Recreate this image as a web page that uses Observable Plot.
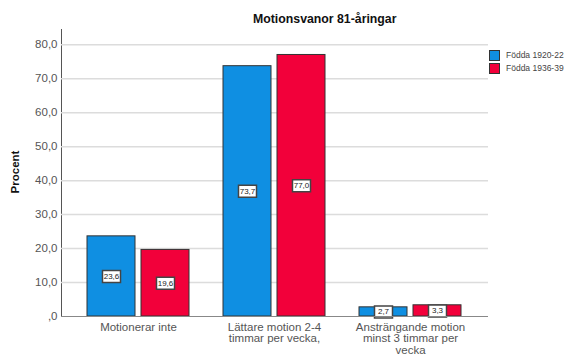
<!DOCTYPE html>
<html><head><meta charset="utf-8">
<script src="https://cdn.jsdelivr.net/npm/d3@7"></script>
<script src="https://cdn.jsdelivr.net/npm/@observablehq/plot@0.6"></script>
<style>
body{margin:0;background:#fff;font-family:Arial,"Liberation Sans",sans-serif;}
#wrap{position:relative;width:571px;height:356px;overflow:hidden;}
#title{position:absolute;left:253px;top:12px;font-size:12.3px;font-weight:bold;color:#111;white-space:nowrap;}
#legend{position:absolute;left:489px;top:49px;font-size:8.5px;color:#444;line-height:13px;}
#legend div{display:flex;align-items:center;}
#legend span.sw{display:inline-block;width:9px;height:9px;border:1px solid #333;margin-right:6px;}
#chart{position:absolute;left:0;top:0;}
</style></head>
<body>
<div id="wrap">
<div id="chart"></div>
<div id="title">Motionsvanor 81-åringar</div>
<div id="legend"></div>
</div>
<script>
const categories = ["Motionerar inte", "Lättare motion 2-4\ntimmar per vecka,", "Ansträngande motion\nminst 3 timmar per\nvecka"];
const series = ["Födda 1920-22", "Födda 1936-39"];
const values1920 = [23.6, 73.7, 2.7];
const values1936 = [19.6, 77.0, 3.3];
const yTicks = [0, 10, 20, 30, 40, 50, 60, 70, 80];
const colors = ["#0f8fe2", "#f2003a"];

const fmt = d => d === 0 ? ",0" : d.toFixed(1).replace(".", ",");
const data = [];
categories.forEach((c, i) => {
  data.push({cat: c, series: series[0], v: values1920[i]});
  data.push({cat: c, series: series[1], v: values1936[i]});
});
const d1 = data.filter(d => d.series === series[0]);
const d2 = data.filter(d => d.series === series[1]);

const boxSymbol = {draw(ctx, size) { ctx.rect(-9, -6, 18, 12); }};

// band: width 121 of step 137; bar 49, gap 5, outer inset 9
const bw = 121, outer = 9, barW = 49;
const off = bw / 2 - outer - barW / 2;
const plot = Plot.plot({
  width: 571,
  height: 356,
  marginLeft: 61,
  marginRight: 83,
  marginTop: 29,
  marginBottom: 40,
  style: {fontFamily: "Arial, 'Liberation Sans', sans-serif", color: "#555", fontSize: "11.5px"},
  x: {domain: categories, padding: 0.117, label: null, tickSize: 0, tickPadding: 6},
  y: {domain: [0, 84.5], ticks: yTicks, tickFormat: fmt, tickSize: 0, tickPadding: 4, label: null, line: true},
  marks: [
    Plot.ruleY(yTicks.filter(t => t > 0), {stroke: "#dcdcdc", strokeWidth: 1.5}),
    Plot.barY(d1, {x: "cat", y: "v", fill: colors[0], stroke: "#333", strokeWidth: 1, insetLeft: outer, insetRight: bw - outer - barW}),
    Plot.barY(d2, {x: "cat", y: "v", fill: colors[1], stroke: "#333", strokeWidth: 1, insetLeft: bw - outer - barW, insetRight: outer}),
    Plot.dot(d1, {x: "cat", y: d => d.v / 2, dx: -off, symbol: boxSymbol, fill: "white", stroke: "#444", r: 6}),
    Plot.dot(d2, {x: "cat", y: d => d.v / 2, dx: off, symbol: boxSymbol, fill: "white", stroke: "#444", r: 6}),
    Plot.text(d1, {x: "cat", y: d => d.v / 2, dx: -off, text: d => fmt(d.v), fontSize: 8, fill: "#222"}),
    Plot.text(d2, {x: "cat", y: d => d.v / 2, dx: off, text: d => fmt(d.v), fontSize: 8, fill: "#222"}),
    Plot.ruleY([0], {stroke: "#888"})
  ]
});
document.getElementById("chart").appendChild(plot);

// y-axis title
const svg = d3.select(plot);
svg.append("text")
  .attr("transform", "translate(19,172) rotate(-90)")
  .attr("text-anchor", "middle")
  .attr("font-size", 11.5).attr("font-weight", "bold").attr("fill", "#111")
  .text("Procent");

const leg = document.getElementById("legend");
series.forEach((s, i) => {
  const row = document.createElement("div");
  row.innerHTML = `<span class="sw" style="background:${colors[i]}"></span>${s}`;
  leg.appendChild(row);
});
</script>
</body></html>
